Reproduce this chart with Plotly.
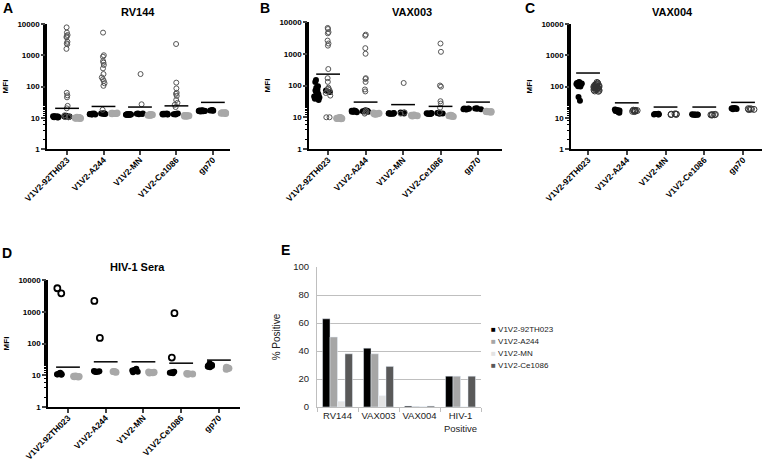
import plotly.graph_objs as go

antigens = ['V1V2-92TH023', 'V1V2-A244', 'V1V2-MN', 'V1V2-Ce1086', 'gp70']

# A - RV144
rv144_pre = [
    [10.2, 10.5, 10.8, 11, 10.4, 10.6, 10.9, 11.2, 10.3, 10.7, 11.1, 10.5, 10.8, 10.6, 11],
    [13, 13.2, 13.4, 12.8, 13.1, 13.5, 12.9, 13.3, 13, 13.6, 13.2, 12.7],
    [12.5, 12.8, 13, 12.3, 12.6, 12.9, 12.7, 13.1, 12.4, 12.8, 12.6],
    [13, 13.4, 12.8, 13.2, 13.6, 12.9, 13.1, 13.5, 12.7, 13.3, 13],
    [16, 16.5, 17, 16.2, 16.8, 17.2, 15.8, 16.6, 17.4, 16.3, 16.9],
]
rv144_vac_neg = [
    [10.8, 11.2, 10.5, 11.5, 11],
    [13.2, 13.8, 13.5, 14, 13.4, 13.7],
    [13, 13.5, 13.8, 13.2, 13.6],
    [13, 13.5, 13.8, 13.2, 12.8],
    [17, 17.5, 16.8, 17.8, 17.2],
]
rv144_vac_pos = [
    [7800, 5300, 4450, 4100, 3750, 2700, 2400, 2250, 1600, 63, 52, 45, 24, 20, 12, 10.5, 11, 10.3],
    [5300, 1000, 900, 650, 580, 490, 380, 250, 195, 170, 150, 127, 105, 18],
    [250, 27],
    [2290, 133, 87, 63, 58, 50, 37, 30, 26, 22],
    [],
]
rv144_plc = [
    [9.5, 9.8, 10, 10.2, 9.6, 9.9, 10.1, 9.7, 10.3],
    [13.5, 13.8, 14, 13.6, 14.2, 13.9, 13.7],
    [12, 12.3, 12.5, 12.1, 12.4, 12.2, 12.6],
    [11.2, 11.5, 11.8, 11.4, 11.6, 11.3, 11.9],
    [14, 14.3, 14.5, 13.8, 14.2, 14.4, 14.1],
]
rv144_cut = [20, 23, 22, 24, 31]

# B - VAX003
vax003_pre = [
    [150, 130, 95, 85, 75, 70, 65, 60, 58, 52, 48, 45, 42, 38, 35],
    [15, 15.5, 16, 14.8, 15.2, 16.3, 15.8, 14.5, 15.6, 16],
    [13, 13.4, 12.8, 13.2, 13.5, 12.9, 13.1, 13.3],
    [13, 13.2, 12.8, 13.4, 12.9, 13.1, 13.5, 12.7],
    [18, 18.5, 17.6, 18.8, 19, 17.8, 18.3, 18.6],
]
vax003_vac_neg = [
    [70, 62],
    [15.5, 16, 15, 16.5, 15.8],
    [13.5, 14, 13.2, 14.2],
    [13.5, 13, 13.8, 13.2],
    [18.5, 19, 18, 19.2],
]
vax003_vac_pos = [
    [6500, 6000, 4800, 4400, 2600, 2100, 1800, 330, 170, 130, 85, 78, 72, 65, 58, 48, 10, 10],
    [4000, 3700, 1500, 1000, 170, 160, 130, 75, 65, 16, 15, 14, 13],
    [120, 14, 13],
    [2100, 1150, 100, 92, 32, 27, 20, 14],
    [],
]
vax003_plc = [
    [9, 9.3, 9.6, 9.2, 9.8, 9.4, 9.1, 9.5],
    [12.5, 13, 13.3, 12.8, 13.5, 12.7],
    [11, 11.4, 11.8, 11.2, 11.6, 11.5],
    [10.5, 11, 11.3, 10.8, 11.5, 11.1],
    [14.5, 15, 15.3, 14.8, 15.5, 15.1],
]
vax003_cut = [228, 30, 25, 22, 30]

# C - VAX004
vax004_pre = [
    [140, 135, 130, 125, 120, 118, 115, 112, 110, 108, 105, 102, 100, 125, 130, 115, 110, 120, 35, 46],
    [17, 16.5, 18, 15, 17.5, 16, 18.5, 14.5, 17, 16.8],
    [13, 12.8, 13.3, 12.6, 13.1, 13.4, 12.9],
    [12.5, 12.8, 12.2, 12.6, 12.9, 12.4, 12.7],
    [19.5, 20, 19, 20.5, 19.8, 18.8, 20.2],
]
vax004_vac = [
    [135, 128, 120, 115, 110, 105, 100, 98, 95, 92, 90, 88, 85, 82, 80, 78, 75, 72, 70, 105, 95, 88],
    [17, 16.5, 17.5, 16, 17.2, 16.8, 15.8],
    [13, 12.8, 13.3, 12.6, 13.1],
    [12.5, 12.2, 12.8, 12.4, 12.6],
    [19, 18.5, 19.5, 18.2, 19.2],
]
vax004_cut = [270, 30, 22, 22, 31]

# D - HIV-1 sera
hiv_filled = [
    [10.5, 11, 11.5, 10.8, 11.2, 10.3, 12, 10.7],
    [13, 13.3, 12.8, 13.5, 12.6, 13.1],
    [13, 14, 15, 12.5, 13.5, 14.5, 16],
    [12, 12.5, 11.5, 13, 11.8, 12.2],
    [18, 19, 20, 22, 24, 19.5, 21, 18.5],
]
hiv_open = [[5500, 3800], [2200, 150], [], [900, 36], []]
hiv_neg = [
    [9, 9.3, 8.8, 9.1, 9.4],
    [12.5, 13, 12.8, 13.2],
    [12, 12.5, 11.8, 12.3, 12.7],
    [11, 11.4, 10.8, 11.2],
    [16, 17, 15.5, 18, 16.5],
]
hiv_cut = [18, 26.5, 26.5, 24, 30]

# E - % positive
groups = ['RV144', 'VAX003', 'VAX004', 'HIV-1<br>Positive']
pos_92TH023 = [63, 42, 0.7, 22]
pos_A244 = [50, 38, 0.4, 22]
pos_MN = [4, 8, 0.3, 0]
pos_Ce1086 = [38, 29, 0.7, 22]
bar_names = ['V1V2-92TH023', 'V1V2-A244', 'V1V2-MN', 'V1V2-Ce1086']
bar_colors = ['#000000', '#a6a6a6', '#e3e3e3', '#595959']

FONT = 'Liberation Sans, Arial, sans-serif'


def dots(vals, xa, ya, group, fill, edge, lw, size, jitter):
    xs, ys = [], []
    for cat, v in zip(antigens, vals):
        xs += [cat] * len(v)
        ys += v
    return go.Box(x=xs, y=ys, xaxis=xa, yaxis=ya, offsetgroup=group,
                  boxpoints='all', jitter=jitter, pointpos=0, whiskerwidth=0,
                  fillcolor='rgba(0,0,0,0)', line=dict(width=0, color='rgba(0,0,0,0)'),
                  marker=dict(color=fill, size=size, line=dict(color=edge, width=lw)),
                  showlegend=False, hoverinfo='y')


def cutoff(vals, xa, ya):
    return go.Scatter(x=antigens, y=vals, xaxis=xa, yaxis=ya, mode='markers',
                      marker=dict(symbol='line-ew', size=17, line=dict(color='black', width=1.5)),
                      showlegend=False, hoverinfo='y')


BLACK = 'black'
GREY = '#a8a8a8'
OPEN = 'rgba(255,255,255,0)'

data = [
    dots(rv144_pre, 'x', 'y', 'a', BLACK, BLACK, 0, 6, 0.6),
    dots(rv144_vac_neg, 'x', 'y', 'b', BLACK, BLACK, 0, 6, 0.6),
    dots(rv144_vac_pos, 'x', 'y', 'b', OPEN, '#555555', 1, 5, 0.5),
    dots(rv144_plc, 'x', 'y', 'c', GREY, GREY, 0, 7, 0.6),
    cutoff(rv144_cut, 'x', 'y'),

    dots(vax003_pre, 'x2', 'y2', 'a', BLACK, BLACK, 0, 6, 0.6),
    dots(vax003_vac_neg, 'x2', 'y2', 'b', BLACK, BLACK, 0, 6, 0.6),
    dots(vax003_vac_pos, 'x2', 'y2', 'b', OPEN, '#555555', 1, 5, 0.5),
    dots(vax003_plc, 'x2', 'y2', 'c', GREY, GREY, 0, 7, 0.6),
    cutoff(vax003_cut, 'x2', 'y2'),

    dots(vax004_pre, 'x3', 'y3', 'a', BLACK, BLACK, 0, 6, 0.4),
    dots(vax004_vac, 'x3', 'y3', 'b', OPEN, '#333333', 1, 6, 0.4),
    cutoff(vax004_cut, 'x3', 'y3'),

    dots(hiv_filled, 'x4', 'y4', 'a', BLACK, BLACK, 0, 6, 0.4),
    dots(hiv_open, 'x4', 'y4', 'a', OPEN, BLACK, 1.8, 6, 0.4),
    dots(hiv_neg, 'x4', 'y4', 'b', GREY, GREY, 0, 7, 0.4),
    cutoff(hiv_cut, 'x4', 'y4'),
]
for name, color, vals in zip(bar_names, bar_colors, [pos_92TH023, pos_A244, pos_MN, pos_Ce1086]):
    data.append(go.Bar(x=groups, y=vals, name=name, marker=dict(color=color),
                       xaxis='x5', yaxis='y5', showlegend=False))


def xax(dom, rng, anchor):
    return dict(domain=dom, range=rng, anchor=anchor, type='category', automargin=False,
                categoryorder='array', categoryarray=antigens,
                showline=True, linecolor='black', linewidth=1.5, ticks='outside',
                ticklen=4, tickwidth=1.5, tickangle=-45, showgrid=False, zeroline=False,
                ticklabelstandoff=-3,
                tickfont=dict(family=FONT, size=8.5, color='black', weight='bold'))


def yax(dom, anchor):
    return dict(domain=dom, anchor=anchor, type='log', range=[0, 4], automargin=False,
                tickvals=[1, 10, 100, 1000, 10000], ticktext=['1', '10', '100', '1000', '10000'],
                showline=True, linecolor='black', linewidth=1.5, ticks='outside',
                ticklen=4, tickwidth=1.5, showgrid=False, zeroline=False,
                minor=dict(ticks='outside', ticklen=2, tickcolor='black', tickwidth=1),
                title=dict(text='MFI', font=dict(family=FONT, size=8, color='black', weight='bold'), standoff=8),
                tickfont=dict(family=FONT, size=8, color='black', weight='bold'))


def label(x, y, text, size, xanchor='center', color='black', weight='bold'):
    return dict(x=x / 763, y=1 - y / 464, xref='paper', yref='paper', text=text, showarrow=False,
                xanchor=xanchor, yanchor='middle',
                font=dict(family=FONT, size=size, color=color, weight=weight))


annotations = [
    label(8, 8, 'A', 14), label(265, 8, 'B', 14), label(530, 8, 'C', 14),
    label(7, 253, 'D', 14), label(285, 250, 'E', 14),
    label(138, 12, 'RV144', 11), label(412, 12, 'VAX003', 11),
    label(672, 12, 'VAX004', 11), label(137, 267, 'HIV-1 Sera', 11),
]
# compact legend for panel E
for i, (name, color) in enumerate(zip(bar_names, bar_colors)):
    annotations.append(label(489, 329 + 12 * i,
                             '<span style="color:%s">■</span> %s' % (color, name),
                             8, xanchor='left', color='#222222', weight='normal'))

layout = go.Layout(
    width=763, height=464,
    margin=dict(l=0, r=0, t=0, b=0),
    paper_bgcolor='white', plot_bgcolor='white',
    showlegend=False,
    boxmode='group', boxgap=0.1, boxgroupgap=0,
    barmode='group', bargap=0.27, bargroupgap=0,
    xaxis=xax([47 / 763, 230 / 763], [-0.55, 4.47], 'y'),
    yaxis=yax([1 - 149 / 464, 1 - 24 / 464], 'x'),
    xaxis2=xax([309 / 763, 502 / 763], [-0.51, 4.64], 'y2'),
    yaxis2=yax([1 - 149 / 464, 1 - 22 / 464], 'x2'),
    xaxis3=xax([571 / 763, 762 / 763], [-0.44, 4.49], 'y3'),
    yaxis3=yax([1 - 149 / 464, 1 - 24 / 464], 'x3'),
    xaxis4=xax([48 / 763, 240 / 763], [-0.53, 4.56], 'y4'),
    yaxis4=yax([1 - 407 / 464, 1 - 280 / 464], 'x4'),
    xaxis5=dict(domain=[317 / 763, 481 / 763], anchor='y5', automargin=False,
                showline=True, linecolor='#bfbfbf', tickson='boundaries', tickangle=0,
                ticks='outside', ticklen=4, tickcolor='#bfbfbf', showgrid=False,
                tickfont=dict(family=FONT, size=9.5, color='#222222')),
    yaxis5=dict(domain=[1 - 407 / 464, 1 - 267 / 464], anchor='x5', range=[0, 100], dtick=20,
                automargin=False, showline=True, linecolor='#bfbfbf', showgrid=True,
                gridcolor='#bfbfbf', zeroline=False, ticklabelstandoff=5,
                tickfont=dict(family=FONT, size=9.5, color='#222222'),
                title=dict(text='% Positive', font=dict(family=FONT, size=10, color='#222222'), standoff=10)),
    annotations=annotations,
)

fig = go.Figure(data=data, layout=layout)
fig.write_html('out.html', config={'displayModeBar': False},
               post_script="document.body.style.margin='0px';")
